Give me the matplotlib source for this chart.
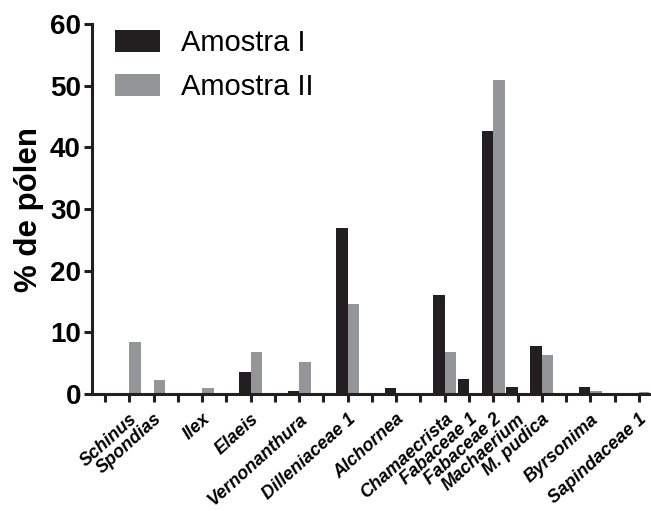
import matplotlib
matplotlib.use('Agg')
from matplotlib import pyplot as plt
import numpy as np

plt.rcParams['font.family'] = ['Liberation Sans', 'DejaVu Sans']

# 23 positions on the x axis; unnamed positions have no pollen
taxa = ['', 'Schinus', 'Spondias', '', 'Ilex', '', 'Elaeis', '', 'Vernonanthura',
        '', 'Dilleniaceae 1', '', 'Alchornea', '', 'Chamaecrista', 'Fabaceae 1',
        'Fabaceae 2', 'Machaerium', 'M. pudica', '', 'Byrsonima', '', 'Sapindaceae 1']
amostra_1 = [0, 0, 0, 0, 0, 0, 3.6, 0, 0.5, 0, 26.9, 0, 0.9, 0, 16.1, 2.4,
             42.6, 1.1, 7.8, 0, 1.1, 0, 0]
amostra_2 = [0, 8.5, 2.3, 0, 1.0, 0, 6.8, 0, 5.2, 0, 14.6, 0, 0, 0, 6.8, 0,
             50.9, 0, 6.3, 0, 0.5, 0, 0.4]
series_names = ['Amostra I', 'Amostra II']
colors = ['#231f20', '#939598']

fig = plt.figure(figsize=(6.51, 5.11), dpi=100)
ax = fig.add_axes([92/651, 1-394/511, 557/651, 370/511])

x = np.arange(len(taxa))
w = 0.47
ax.bar(x, amostra_1, width=-w, align='edge', color=colors[0], label=series_names[0])
ax.bar(x, amostra_2, width=w, align='edge', color=colors[1], label=series_names[1])

ax.set_xlim(-0.54, 22.42)
ax.set_ylim(0, 60)
ax.set_yticks(range(0, 61, 10))
ax.set_xticks(x)
ax.set_xticklabels(taxa, rotation=42, ha='right', va='top', rotation_mode='anchor',
                   fontsize=13, fontweight='bold', fontstyle='italic')
for lab in ax.get_yticklabels():
    lab.set_fontsize(20)
    lab.set_fontweight('bold')
ax.set_ylabel('% de pólen', fontsize=22.5, fontweight='bold', labelpad=4)

for s in ['top', 'right']:
    ax.spines[s].set_visible(False)
for s in ['left', 'bottom']:
    ax.spines[s].set_linewidth(2.2)
    ax.spines[s].set_color('#231f20')
ax.tick_params(axis='both', length=6, width=2.2, color='#231f20')
ax.tick_params(axis='x', pad=6)
ax.tick_params(axis='y', pad=2)

fig.legend(loc='upper left', bbox_to_anchor=(115/651, 1-29/511), frameon=False,
           fontsize=21, borderpad=0, borderaxespad=0, handlelength=1.55,
           handleheight=0.8, handletextpad=0.7, labelspacing=0.55)

plt.savefig('out.png', dpi=100)
